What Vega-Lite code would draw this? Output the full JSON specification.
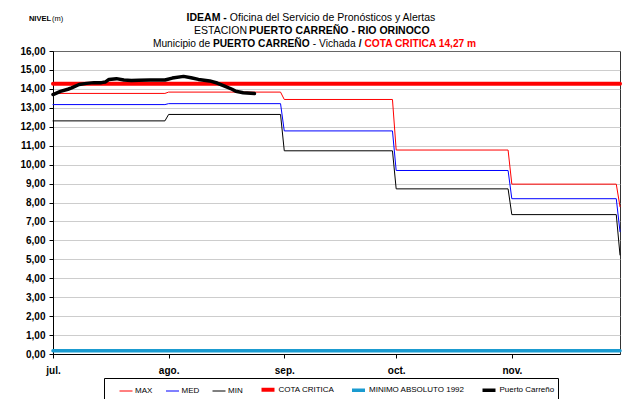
{
  "$schema": "https://vega.github.io/schema/vega-lite/v6.json",
  "width": 567,
  "height": 303,
  "autosize": {"type": "none"},
  "padding": {"left": 53, "top": 51, "right": 15, "bottom": 45},
  "background": "white",
  "config": {
    "font": "Liberation Sans",
    "view": {"stroke": "#333333", "strokeWidth": 1},
    "text": {"font": "Liberation Sans", "fontSize": 10.5, "baseline": "alphabetic", "color": "#000000"},
    "legend": {
      "orient": "none",
      "legendX": 51,
      "legendY": 327,
      "direction": "horizontal",
      "symbolType": "stroke",
      "symbolSize": 169,
      "labelFont": "Liberation Sans",
      "labelFontSize": 8,
      "labelColor": "#000000",
      "labelOffset": 2,
      "columnPadding": 10.5,
      "padding": 3,
      "titleOrient": "left",
      "titlePadding": 12,
      "titleFontSize": 8,
      "strokeColor": "#000000",
      "fillColor": "#ffffff"
    }
  },
  "resolve": {"axis": {"x": "independent", "y": "independent"}},
  "datasets": {
    "niveles": [
      {"fecha": "2021-07-01", "serie": "MAX", "nivel": 13.76},
      {"fecha": "2021-07-31", "serie": "MAX", "nivel": 13.76},
      {"fecha": "2021-08-01", "serie": "MAX", "nivel": 13.83},
      {"fecha": "2021-08-31", "serie": "MAX", "nivel": 13.83},
      {"fecha": "2021-09-01", "serie": "MAX", "nivel": 13.44},
      {"fecha": "2021-09-30", "serie": "MAX", "nivel": 13.44},
      {"fecha": "2021-10-01", "serie": "MAX", "nivel": 10.77},
      {"fecha": "2021-10-31", "serie": "MAX", "nivel": 10.77},
      {"fecha": "2021-11-01", "serie": "MAX", "nivel": 8.97},
      {"fecha": "2021-11-29", "serie": "MAX", "nivel": 8.97},
      {"fecha": "2021-11-30", "serie": "MAX", "nivel": 7.78},

      {"fecha": "2021-07-01", "serie": "MED", "nivel": 13.17},
      {"fecha": "2021-07-31", "serie": "MED", "nivel": 13.17},
      {"fecha": "2021-08-01", "serie": "MED", "nivel": 13.22},
      {"fecha": "2021-08-31", "serie": "MED", "nivel": 13.22},
      {"fecha": "2021-09-01", "serie": "MED", "nivel": 11.78},
      {"fecha": "2021-09-30", "serie": "MED", "nivel": 11.78},
      {"fecha": "2021-10-01", "serie": "MED", "nivel": 9.69},
      {"fecha": "2021-10-31", "serie": "MED", "nivel": 9.69},
      {"fecha": "2021-11-01", "serie": "MED", "nivel": 8.2},
      {"fecha": "2021-11-29", "serie": "MED", "nivel": 8.2},
      {"fecha": "2021-11-30", "serie": "MED", "nivel": 6.46},

      {"fecha": "2021-07-01", "serie": "MIN", "nivel": 12.31},
      {"fecha": "2021-07-31", "serie": "MIN", "nivel": 12.31},
      {"fecha": "2021-08-01", "serie": "MIN", "nivel": 12.65},
      {"fecha": "2021-08-31", "serie": "MIN", "nivel": 12.65},
      {"fecha": "2021-09-01", "serie": "MIN", "nivel": 10.73},
      {"fecha": "2021-09-30", "serie": "MIN", "nivel": 10.73},
      {"fecha": "2021-10-01", "serie": "MIN", "nivel": 8.72},
      {"fecha": "2021-10-31", "serie": "MIN", "nivel": 8.72},
      {"fecha": "2021-11-01", "serie": "MIN", "nivel": 7.36},
      {"fecha": "2021-11-29", "serie": "MIN", "nivel": 7.36},
      {"fecha": "2021-11-30", "serie": "MIN", "nivel": 5.23},

      {"fecha": "2021-07-01", "serie": "MINIMO ABSOLUTO 1992", "nivel": 0.17},
      {"fecha": "2021-11-30", "serie": "MINIMO ABSOLUTO 1992", "nivel": 0.17},

      {"fecha": "2021-07-01", "serie": "COTA CRITICA", "nivel": 14.27},
      {"fecha": "2021-11-30", "serie": "COTA CRITICA", "nivel": 14.27},

      {"fecha": "2021-07-01", "serie": "Puerto Carreño", "nivel": 13.7},
      {"fecha": "2021-07-03", "serie": "Puerto Carreño", "nivel": 13.87},
      {"fecha": "2021-07-05", "serie": "Puerto Carreño", "nivel": 13.98},
      {"fecha": "2021-07-06", "serie": "Puerto Carreño", "nivel": 14.05},
      {"fecha": "2021-07-08", "serie": "Puerto Carreño", "nivel": 14.23},
      {"fecha": "2021-07-10", "serie": "Puerto Carreño", "nivel": 14.29},
      {"fecha": "2021-07-12", "serie": "Puerto Carreño", "nivel": 14.33},
      {"fecha": "2021-07-14", "serie": "Puerto Carreño", "nivel": 14.33},
      {"fecha": "2021-07-15", "serie": "Puerto Carreño", "nivel": 14.36},
      {"fecha": "2021-07-16", "serie": "Puerto Carreño", "nivel": 14.5},
      {"fecha": "2021-07-18", "serie": "Puerto Carreño", "nivel": 14.54},
      {"fecha": "2021-07-20", "serie": "Puerto Carreño", "nivel": 14.47},
      {"fecha": "2021-07-22", "serie": "Puerto Carreño", "nivel": 14.44},
      {"fecha": "2021-07-24", "serie": "Puerto Carreño", "nivel": 14.45},
      {"fecha": "2021-07-27", "serie": "Puerto Carreño", "nivel": 14.47},
      {"fecha": "2021-07-31", "serie": "Puerto Carreño", "nivel": 14.47},
      {"fecha": "2021-08-02", "serie": "Puerto Carreño", "nivel": 14.57},
      {"fecha": "2021-08-05", "serie": "Puerto Carreño", "nivel": 14.66},
      {"fecha": "2021-08-07", "serie": "Puerto Carreño", "nivel": 14.59},
      {"fecha": "2021-08-09", "serie": "Puerto Carreño", "nivel": 14.5},
      {"fecha": "2021-08-12", "serie": "Puerto Carreño", "nivel": 14.42},
      {"fecha": "2021-08-14", "serie": "Puerto Carreño", "nivel": 14.31},
      {"fecha": "2021-08-16", "serie": "Puerto Carreño", "nivel": 14.15},
      {"fecha": "2021-08-18", "serie": "Puerto Carreño", "nivel": 13.98},
      {"fecha": "2021-08-19", "serie": "Puerto Carreño", "nivel": 13.87},
      {"fecha": "2021-08-21", "serie": "Puerto Carreño", "nivel": 13.8},
      {"fecha": "2021-08-24", "serie": "Puerto Carreño", "nivel": 13.75}
    ]
  },
  "layer": [
    {
      "data": {"name": "niveles"},
      "mark": {"type": "line", "strokeJoin": "round", "strokeCap": "round"},
      "encoding": {
        "x": {
          "field": "fecha",
          "type": "temporal",
          "scale": {
            "type": "utc",
            "domain": [
              {"year": 2021, "month": 7, "date": 1, "utc": true},
              {"year": 2021, "month": 11, "date": 30, "utc": true}
            ]
          },
          "axis": {
            "title": null,
            "grid": false,
            "values": [
              {"year": 2021, "month": 7, "date": 1, "utc": true},
              {"year": 2021, "month": 8, "date": 1, "utc": true},
              {"year": 2021, "month": 9, "date": 1, "utc": true},
              {"year": 2021, "month": 10, "date": 1, "utc": true},
              {"year": 2021, "month": 11, "date": 1, "utc": true}
            ],
            "labelExpr": "['ene.','feb.','mar.','abr.','may.','jun.','jul.','ago.','sep.','oct.','nov.','dic.'][utcmonth(datum.value)]",
            "labelFont": "Liberation Sans",
            "labelFontSize": 10,
            "labelFontWeight": "bold",
            "labelColor": "#000000",
            "labelPadding": 7,
            "labelFlush": false,
            "labelOverlap": false,
            "domainColor": "#000000",
            "tickColor": "#000000",
            "tickSize": 4
          }
        },
        "y": {
          "field": "nivel",
          "type": "quantitative",
          "scale": {"domain": [0, 16], "nice": false, "zero": true},
          "axis": {
            "title": null,
            "values": [0, 1, 2, 3, 4, 5, 6, 7, 8, 9, 10, 11, 12, 13, 14, 15, 16],
            "labelExpr": "replace(format(datum.value, '.2f'), '.', ',')",
            "labelFont": "Liberation Sans",
            "labelFontSize": 10,
            "labelFontWeight": "bold",
            "labelColor": "#000000",
            "labelPadding": 4,
            "labelOverlap": false,
            "domainColor": "#000000",
            "tickColor": "#000000",
            "tickSize": 4,
            "grid": true,
            "gridColor": "#9a9a9a",
            "gridDash": [1, 1],
            "gridWidth": 1
          }
        },
        "color": {
          "field": "serie",
          "type": "nominal",
          "scale": {
            "domain": ["MAX", "MED", "MIN", "COTA CRITICA", "MINIMO ABSOLUTO 1992", "Puerto Carreño"],
            "range": ["#ff0000", "#0000ff", "#000000", "#ff0000", "#1a9bd0", "#000000"]
          },
          "legend": {"title": "\u00a0"}
        },
        "strokeWidth": {
          "field": "serie",
          "type": "ordinal",
          "scale": {
            "type": "ordinal",
            "domain": ["MAX", "MED", "MIN", "COTA CRITICA", "MINIMO ABSOLUTO 1992", "Puerto Carreño"],
            "range": [1, 1, 1, 4, 3.5, 3.5]
          },
          "legend": {"title": "\u00a0"}
        }
      }
    },
    {
      "data": {"values": [{}]},
      "layer": [
        {
          "mark": {"type": "text", "fontSize": 7.5, "fontWeight": "bold", "align": "right", "dx": -2},
          "encoding": {
            "x": {"datum": {"year": 2021, "month": 7, "date": 1, "utc": true}, "type": "temporal", "axis": null},
            "y": {"datum": 17.6, "type": "quantitative", "axis": null},
            "text": {"value": "NIVEL"}
          }
        },
        {
          "mark": {"type": "text", "fontSize": 7.5, "align": "left", "dx": -1},
          "encoding": {
            "x": {"datum": {"year": 2021, "month": 7, "date": 1, "utc": true}, "type": "temporal", "axis": null},
            "y": {"datum": 17.6, "type": "quantitative", "axis": null},
            "text": {"value": "(m)"}
          }
        },
        {
          "mark": {"type": "text", "fontWeight": "bold", "align": "right", "dx": -1.5},
          "encoding": {
            "x": {"datum": {"year": 2021, "month": 8, "date": 17, "utc": true}, "type": "temporal", "axis": null},
            "y": {"datum": 17.6, "type": "quantitative", "axis": null},
            "text": {"value": "IDEAM -"}
          }
        },
        {
          "mark": {"type": "text", "align": "left", "dx": 1.5},
          "encoding": {
            "x": {"datum": {"year": 2021, "month": 8, "date": 17, "utc": true}, "type": "temporal", "axis": null},
            "y": {"datum": 17.6, "type": "quantitative", "axis": null},
            "text": {"value": "Oficina del Servicio de Pronósticos y Alertas"}
          }
        },
        {
          "mark": {"type": "text", "align": "right", "dx": 0},
          "encoding": {
            "x": {"datum": {"year": 2021, "month": 8, "date": 22, "utc": true}, "type": "temporal", "axis": null},
            "y": {"datum": 16.9, "type": "quantitative", "axis": null},
            "text": {"value": "ESTACION"}
          }
        },
        {
          "mark": {"type": "text", "fontWeight": "bold", "align": "left", "dx": 2},
          "encoding": {
            "x": {"datum": {"year": 2021, "month": 8, "date": 22, "utc": true}, "type": "temporal", "axis": null},
            "y": {"datum": 16.9, "type": "quantitative", "axis": null},
            "text": {"value": "PUERTO CARREÑO - RIO ORINOCO"}
          }
        },
        {
          "mark": {"type": "text", "fontSize": 10.2, "align": "right", "dx": 0.5},
          "encoding": {
            "x": {"datum": {"year": 2021, "month": 8, "date": 12, "utc": true}, "type": "temporal", "axis": null},
            "y": {"datum": 16.23, "type": "quantitative", "axis": null},
            "text": {"value": "Municipio de"}
          }
        },
        {
          "mark": {"type": "text", "fontSize": 10.2, "fontWeight": "bold", "align": "left", "dx": 3.3},
          "encoding": {
            "x": {"datum": {"year": 2021, "month": 8, "date": 12, "utc": true}, "type": "temporal", "axis": null},
            "y": {"datum": 16.23, "type": "quantitative", "axis": null},
            "text": {"value": "PUERTO CARREÑO"}
          }
        },
        {
          "mark": {"type": "text", "fontSize": 10.2, "align": "left", "dx": -1.3},
          "encoding": {
            "x": {"datum": {"year": 2021, "month": 9, "date": 9, "utc": true}, "type": "temporal", "axis": null},
            "y": {"datum": 16.23, "type": "quantitative", "axis": null},
            "text": {"value": "- Vichada"}
          }
        },
        {
          "mark": {"type": "text", "fontSize": 10.2, "fontWeight": "bold", "align": "left", "dx": -0.2},
          "encoding": {
            "x": {"datum": {"year": 2021, "month": 9, "date": 21, "utc": true}, "type": "temporal", "axis": null},
            "y": {"datum": 16.23, "type": "quantitative", "axis": null},
            "text": {"value": "/"}
          }
        },
        {
          "mark": {"type": "text", "fontSize": 10.2, "fontWeight": "bold", "align": "left", "dx": 1.8, "color": "#ff0000"},
          "encoding": {
            "x": {"datum": {"year": 2021, "month": 9, "date": 22, "utc": true}, "type": "temporal", "axis": null},
            "y": {"datum": 16.23, "type": "quantitative", "axis": null},
            "text": {"value": "COTA CRITICA 14,27 m"}
          }
        }
      ]
    }
  ]
}
